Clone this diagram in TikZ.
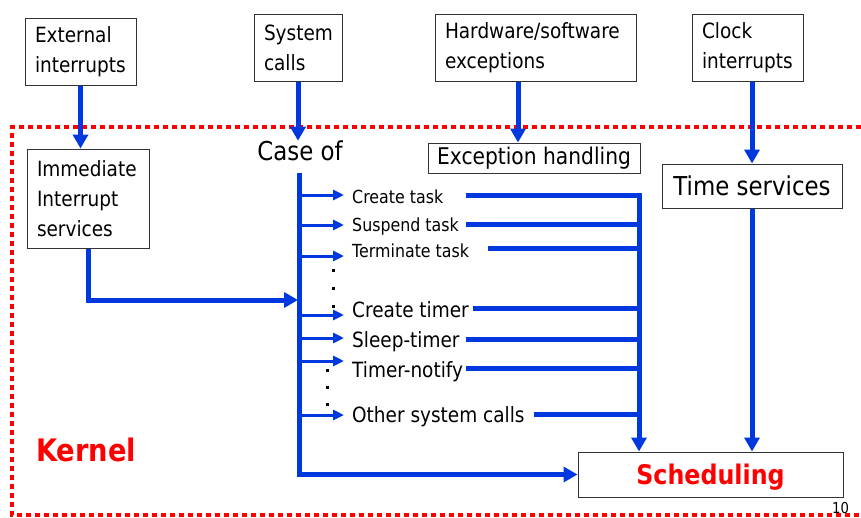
\documentclass[tikz,border=0pt]{standalone}
\usepackage{fontspec}
\setmainfont{DejaVu Sans}[FakeStretch=0.88]
\usetikzlibrary{arrows.meta}
\definecolor{busblue}{RGB}{0,56,224}
\definecolor{kred}{RGB}{255,0,0}
\newcommand{\fsz}[1]{\fontsize{#1}{#1}\selectfont}

\begin{document}
\begin{tikzpicture}[x=1pt,y=-1pt,
  box/.style={draw=black!80, line width=1pt, fill=white, inner sep=0pt},
  srcbox/.style={box, align=left, inner xsep=10pt, font=\fontsize{21}{30}\selectfont},
  bus/.style={busblue, line width=5pt, line join=miter},
  busarrow/.style={bus, -{Triangle[width=15pt,length=14pt]}},
  branch/.style={busblue, line width=3pt, -{Triangle[width=10pt,length=11pt]}},
  kframe/.style={kred, line width=4.5pt, dash pattern=on 5pt off 4pt},
  dotmark/.style={fill=black, rectangle, inner sep=0pt, minimum size=3pt},
  lab/.style={inner sep=0pt, anchor=base west}
]
\useasboundingbox (0,0) rectangle (861,517);

% kernel boundary (right side runs off the page)
\draw[kframe] (870,127) -- (12,127) -- (12,515) -- (870,515);

% event sources
\node[srcbox, text width=91pt, minimum height=67pt] (ext) at (80.5,51.5) {External\\interrupts};
\node[srcbox, text width=68pt, minimum height=67pt] (sys) at (298,47.5) {System\\calls};
\node[srcbox, text width=181pt, minimum height=67pt] (hw) at (535.5,47.5) {Hardware/software\\exceptions};
\node[srcbox, text width=91pt, minimum height=67pt] (clk) at (747.5,47.5) {Clock\\interrupts};

% kernel parts
\node[srcbox, text width=102pt, minimum height=99pt] (imm) at (88,198.5) {Immediate\\Interrupt\\services};
\node[inner sep=0pt, font=\fsz{26}] (caseof) at (300,151) {Case of};
\node[box, minimum width=212pt, minimum height=30pt, font=\fsz{23}] (exc) at (534,158) {Exception handling};
\node[box, minimum width=180pt, minimum height=44pt, font=\fsz{26}] (ts) at (752,186) {Time services};
\node[box, minimum width=265pt, minimum height=45pt, font=\bfseries\fsz{27}, text=kred, text height=22pt, text depth=3pt] (sched) at (710.5,474.5) {Scheduling};
\node[lab, font=\bfseries\fsz{31}, text=kred] (kernel) at (36,461) {Kernel};

% junction points of the dispatch and merge buses
\coordinate (bus) at (299,173);
\coordinate (merge) at (639,195);
\coordinate (hwx) at (518,0);

% inputs into the kernel
\draw[busarrow] (ext.south) -- (ext.south |- imm.north);
\draw[busarrow] (sys.south) -- (caseof.north -| sys.south);
\draw[busarrow] (hw.south -| hwx) -- (exc.north -| hwx);
\draw[busarrow] (ts.north |- clk.south) -- (ts.north);

% dispatch bus down to scheduling
\draw[busarrow] (bus) -- (bus |- sched.west) -- (sched.west);
\draw[busarrow] (imm.south) |- ([xshift=-1pt]bus |- 0,300);

% system call branches and their returns to the merge bus
\foreach \i/\txt/\fs/\yb/\ya/\yr/\xs in {
  1/Create task/18/203/195/195/466,
  2/Suspend task/18/231/225/224/466,
  3/Terminate task/18/257/256/248/488,
  4/Create timer/21/317/315/308/473,
  5/Sleep-timer/21/347/338/339/466,
  6/Timer-notify/21/377/361/368/466,
  7/Other system calls/21/422/415/414/534} {
  \node[lab, font=\fsz{\fs}] (lab\i) at (352,\yb) {\txt};
  \draw[branch] (bus |- 0,\ya) -- ([xshift=-8pt]lab\i.west |- 0,\ya);
  \coordinate (ret\i) at (\xs,\yr);
  \draw[bus] (ret\i) -- (merge |- ret\i);
}
\draw[busarrow] (ret1) -- (merge) -- (merge |- sched.north);
\draw[busarrow] (ts.south) -- (ts.south |- sched.north);

% ellipses between the listed calls
\node[dotmark] (d1) at (333,270) {};
\node[dotmark] (d2) at (333,288) {};
\node[dotmark] (d3) at (333,306) {};
\node[dotmark] (d4) at (327,370) {};
\node[dotmark] (d5) at (327,387) {};
\node[dotmark] (d6) at (327,404) {};

% page number
\node[lab, font=\fsz{15}] (pgno) at (832,513) {10};
\end{tikzpicture}
\end{document}
